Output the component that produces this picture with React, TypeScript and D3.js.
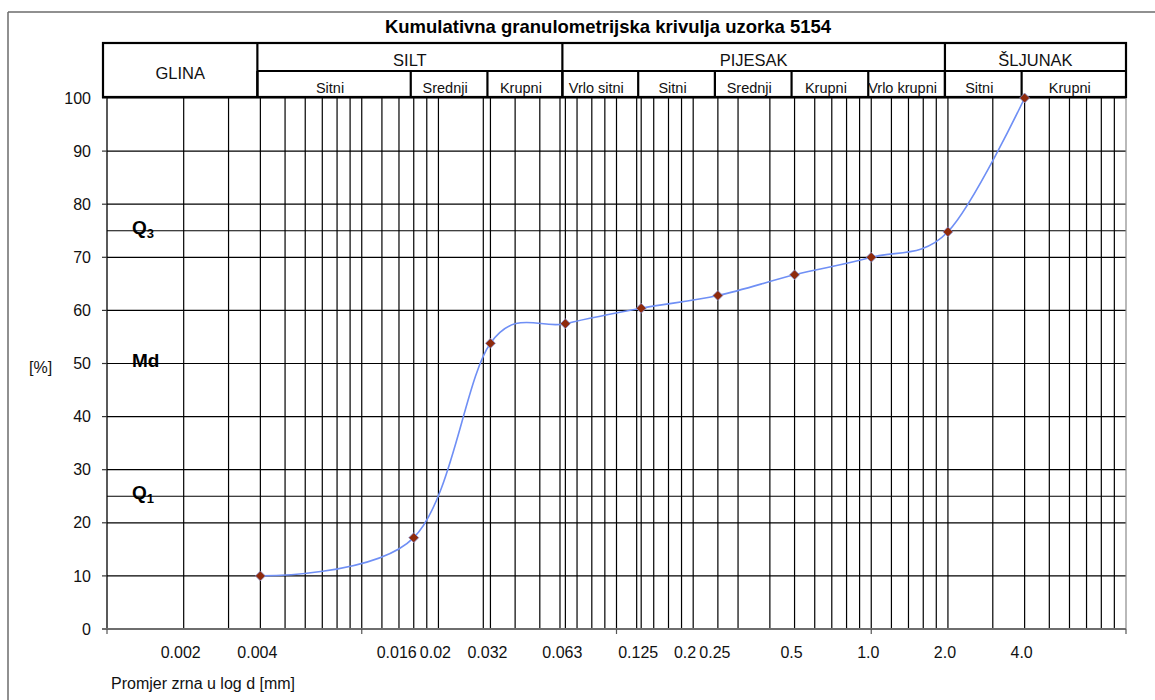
import React, { useEffect, useRef } from 'react';
import * as d3 from 'd3';

// grain size [mm] and cumulative percentage
const grainSizes = [0.004, 0.016, 0.032, 0.063, 0.125, 0.25, 0.5, 1.0, 2.0, 4.0];
const cumulative = [10, 17.2, 53.8, 57.5, 60.4, 62.8, 66.7, 70.0, 74.8, 100];

// vertical grid lines of the log paper
const gridSizes = [
  0.002, 0.003, 0.004, 0.005, 0.006, 0.007, 0.008, 0.009,
  0.01, 0.012, 0.014, 0.016, 0.018, 0.02, 0.03, 0.032, 0.04, 0.05, 0.06, 0.063, 0.07, 0.08, 0.09,
  0.1, 0.12, 0.125, 0.14, 0.16, 0.18, 0.2, 0.25, 0.3, 0.4, 0.5, 0.6, 0.7, 0.8, 0.9,
  1, 1.2, 1.4, 1.6, 1.8, 2, 3, 4, 5, 6, 7, 8, 9,
];
const majorSizes = [0.001, 0.01, 0.1, 1, 10];

const xLabelValues = [0.002, 0.004, 0.016, 0.02, 0.032, 0.063, 0.125, 0.2, 0.25, 0.5, 1.0, 2.0, 4.0];
const xLabelTexts = ['0.002', '0.004', '0.016', '0.02', '0.032', '0.063', '0.125', '0.2', '0.25', '0.5', '1.0', '2.0', '4.0'];

const yTicks = [0, 10, 20, 30, 40, 50, 60, 70, 80, 90, 100];
const quartileValues = [25, 50, 75];
const quartileNames = ['Q', 'Md', 'Q'];
const quartileSubs = ['1', '', '3'];

// header classes: [from, to, name]
const mainClasses: [number, number, string][] = [
  [0.004, 0.063, 'SILT'],
  [0.063, 2, 'PIJESAK'],
  [2, 10, 'ŠLJUNAK'],
];
const subClasses: [number, number, string][] = [
  [0.004, 0.016, 'Sitni'],
  [0.016, 0.032, 'Srednji'],
  [0.032, 0.063, 'Krupni'],
  [0.063, 0.125, 'Vrlo sitni'],
  [0.125, 0.25, 'Sitni'],
  [0.25, 0.5, 'Srednji'],
  [0.5, 1, 'Krupni'],
  [1, 2, 'Vrlo krupni'],
  [2, 4, 'Sitni'],
  [4, 10, 'Krupni'],
];

const FONT = '"Liberation Sans", Arial, sans-serif';
const INK = '#111';

const GranuloChart: React.FC = () => {
  const svgRef = useRef<SVGSVGElement>(null);

  useEffect(() => {
    if (!svgRef.current) return;
    const svg = d3.select(svgRef.current);
    svg.selectAll('*').remove();

    const left = 107;
    const right = 1126;
    const top = 98;
    const bottom = 629;

    const x = d3.scaleLog().domain([0.001, 10]).range([left, right]);
    const y = d3.scaleLinear().domain([0, 100]).range([bottom, top]);

    svg.append('rect').attr('width', 1155).attr('height', 700).attr('fill', '#fff');

    // outer frame of the sheet
    svg.append('line').attr('x1', 8).attr('x2', 1155).attr('y1', 12).attr('y2', 12)
      .attr('stroke', '#6b6b6b').attr('stroke-width', 1.5);
    svg.append('line').attr('x1', 8).attr('x2', 8).attr('y1', 12).attr('y2', 700)
      .attr('stroke', '#6b6b6b').attr('stroke-width', 1.5);

    // title
    svg.append('text')
      .attr('x', 608)
      .attr('y', 33)
      .attr('text-anchor', 'middle')
      .attr('font-family', FONT)
      .attr('font-weight', 'bold')
      .attr('font-size', 18.5)
      .attr('fill', '#000')
      .text('Kumulativna granulometrijska krivulja uzorka 5154');

    const g = svg.append('g');

    // horizontal grid
    g.selectAll('line.hgrid')
      .data([...yTicks.slice(1), ...quartileValues])
      .enter()
      .append('line')
      .attr('x1', left)
      .attr('x2', right)
      .attr('y1', (d) => y(d))
      .attr('y2', (d) => y(d))
      .attr('stroke', '#000')
      .attr('stroke-width', 1.2);

    // vertical grid
    g.selectAll('line.vgrid')
      .data(gridSizes)
      .enter()
      .append('line')
      .attr('x1', (d) => x(d))
      .attr('x2', (d) => x(d))
      .attr('y1', top)
      .attr('y2', bottom)
      .attr('stroke', '#000')
      .attr('stroke-width', 1.2);

    // plot right border
    g.append('line').attr('x1', right).attr('x2', right).attr('y1', top).attr('y2', bottom)
      .attr('stroke', '#8a8a8a').attr('stroke-width', 1.2);

    // y axis
    g.append('line').attr('x1', left).attr('x2', left).attr('y1', top).attr('y2', bottom)
      .attr('stroke', '#000').attr('stroke-width', 1.3);
    g.selectAll('line.ytick')
      .data(yTicks)
      .enter()
      .append('line')
      .attr('x1', left - 5)
      .attr('x2', left)
      .attr('y1', (d) => y(d))
      .attr('y2', (d) => y(d))
      .attr('stroke', '#333')
      .attr('stroke-width', 1.2);
    g.selectAll('text.ylab')
      .data(yTicks)
      .enter()
      .append('text')
      .attr('x', 91)
      .attr('y', (d) => y(d))
      .attr('dy', '0.35em')
      .attr('text-anchor', 'end')
      .attr('font-family', FONT)
      .attr('font-size', 16)
      .attr('fill', INK)
      .text((d) => String(d));

    g.append('text')
      .attr('x', 29)
      .attr('y', y(50) + 4)
      .attr('dy', '0.35em')
      .attr('font-family', FONT)
      .attr('font-size', 16)
      .attr('fill', INK)
      .text('[%]');

    // quartile labels
    quartileValues.forEach((q, i) => {
      const t = g.append('text')
        .attr('x', 132)
        .attr('y', y(q) + 3)
        .attr('font-family', FONT)
        .attr('font-weight', 'bold')
        .attr('font-size', 19)
        .attr('fill', '#000')
        .text(quartileNames[i]);
      if (quartileSubs[i]) {
        t.append('tspan')
          .attr('font-size', 13)
          .attr('dy', 4)
          .text(quartileSubs[i]);
      }
    });

    // x axis
    g.append('line').attr('x1', left - 5).attr('x2', right).attr('y1', bottom).attr('y2', bottom)
      .attr('stroke', '#6e6e6e').attr('stroke-width', 1.8);
    g.selectAll('line.xtick')
      .data(majorSizes)
      .enter()
      .append('line')
      .attr('x1', (d) => x(d))
      .attr('x2', (d) => x(d))
      .attr('y1', bottom)
      .attr('y2', bottom + 5)
      .attr('stroke', '#555')
      .attr('stroke-width', 1.2);
    // labels that sit close to their right neighbour are right-aligned
    const crowded = (d: number) => d === 0.016 || d === 0.2;
    g.selectAll('text.xlab')
      .data(xLabelValues)
      .enter()
      .append('text')
      .attr('x', (d) => (crowded(d) ? x(d) + 3 : x(d) - 3))
      .attr('y', 658)
      .attr('text-anchor', (d) => (crowded(d) ? 'end' : 'middle'))
      .attr('font-family', FONT)
      .attr('font-size', 16)
      .attr('fill', INK)
      .text((_, i) => xLabelTexts[i]);

    g.append('text')
      .attr('x', 111)
      .attr('y', 689)
      .attr('font-family', FONT)
      .attr('font-size', 16)
      .attr('fill', INK)
      .text('Promjer zrna u log d [mm]');

    // header table
    const hTop = 43;
    const hMid = 71;
    const hBot = 97;
    const bx = (v: number) => (v === 10 ? x(v) : v === 0.001 ? x(v) - 4 : x(v) - 3);
    const head = svg.append('g');
    head.append('rect')
      .attr('x', bx(0.001))
      .attr('y', hTop)
      .attr('width', bx(10) - bx(0.001))
      .attr('height', hBot - hTop)
      .attr('fill', '#fff')
      .attr('stroke', '#000')
      .attr('stroke-width', 2.2);
    head.append('line')
      .attr('x1', bx(0.004)).attr('x2', bx(10)).attr('y1', hMid).attr('y2', hMid)
      .attr('stroke', '#000').attr('stroke-width', 2.2);
    head.selectAll('line.mainsep')
      .data(mainClasses)
      .enter()
      .append('line')
      .attr('x1', (d) => bx(d[0]))
      .attr('x2', (d) => bx(d[0]))
      .attr('y1', hTop)
      .attr('y2', hBot)
      .attr('stroke', '#000')
      .attr('stroke-width', 2.2);
    head.selectAll('line.subsep')
      .data(subClasses)
      .enter()
      .append('line')
      .attr('x1', (d) => bx(d[0]))
      .attr('x2', (d) => bx(d[0]))
      .attr('y1', hMid)
      .attr('y2', hBot)
      .attr('stroke', '#000')
      .attr('stroke-width', 2.2);
    head.append('text')
      .attr('x', (bx(0.001) + bx(0.004)) / 2)
      .attr('y', 79)
      .attr('text-anchor', 'middle')
      .attr('font-family', FONT)
      .attr('font-size', 16.5)
      .attr('fill', INK)
      .text('GLINA');
    head.selectAll('text.main')
      .data(mainClasses)
      .enter()
      .append('text')
      .attr('x', (d) => (bx(d[0]) + bx(d[1])) / 2)
      .attr('y', 66)
      .attr('text-anchor', 'middle')
      .attr('font-family', FONT)
      .attr('font-size', 16.5)
      .attr('fill', INK)
      .text((d) => d[2]);
    head.selectAll('text.sub')
      .data(subClasses)
      .enter()
      .append('text')
      .attr('x', (d) => (bx(d[0]) + bx(d[1])) / 2 - 4)
      .attr('y', 93)
      .attr('text-anchor', 'middle')
      .attr('font-family', FONT)
      .attr('font-size', 14.5)
      .attr('fill', INK)
      .text((d) => d[2]);

    // curve
    const pts = grainSizes.map((s, i) => [x(s), y(cumulative[i])] as [number, number]);
    const line = d3.line().curve(d3.curveCardinal.tension(0));
    svg.append('path')
      .attr('d', line(pts))
      .attr('fill', 'none')
      .attr('stroke', '#6f8ff5')
      .attr('stroke-width', 1.6);

    svg.selectAll('path.marker')
      .data(pts)
      .enter()
      .append('path')
      .attr('d', d3.symbol(d3.symbolSquare, 50)())
      .attr('transform', (d) => `translate(${d[0]},${d[1]}) rotate(45)`)
      .attr('fill', '#8f2a0c')
      .attr('stroke', '#8a9be0')
      .attr('stroke-width', 0.7);
  }, []);

  return (
    <svg
      ref={svgRef}
      width={1155}
      height={700}
      style={{ position: 'absolute', left: 0, top: 0, display: 'block' }}
    />
  );
};

export default function App() {
  return <GranuloChart />;
}
